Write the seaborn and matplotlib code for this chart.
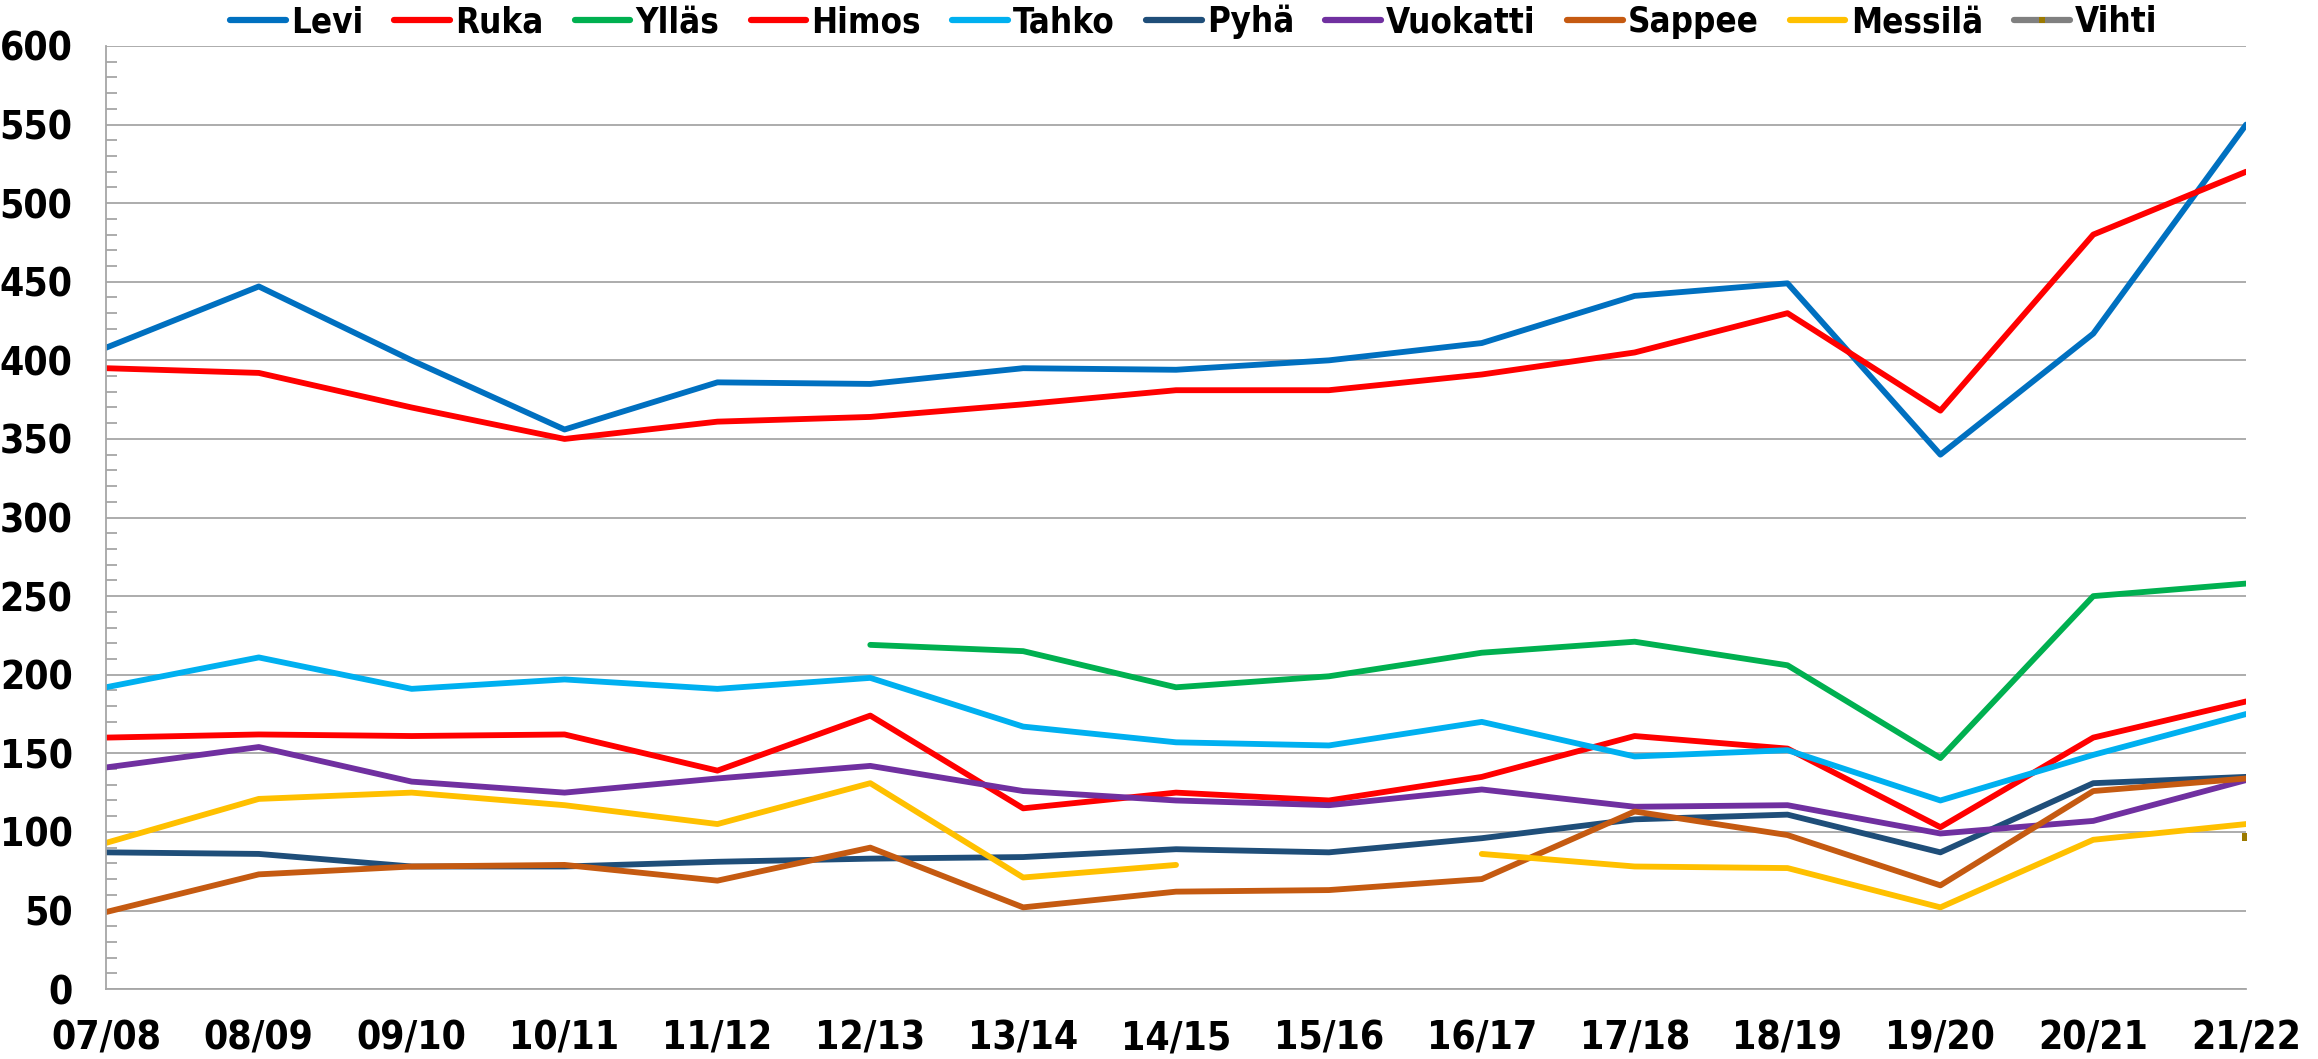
import numpy as np
import pandas as pd
import matplotlib
matplotlib.use('Agg')
import matplotlib.pyplot as plt
from matplotlib.lines import Line2D
from matplotlib.ticker import MultipleLocator
import seaborn as sb

seasons = ['07/08', '08/09', '09/10', '10/11', '11/12', '12/13', '13/14', '14/15',
           '15/16', '16/17', '17/18', '18/19', '19/20', '20/21', '21/22']
nan = np.nan

levi = [408, 447, 400, 356, 386, 385, 395, 394, 400, 411, 441, 449, 340, 417, 550]
ruka = [395, 392, 370, 350, 361, 364, 372, 381, 381, 391, 405, 430, 368, 480, 520]
yllas = [nan, nan, nan, nan, nan, 219, 215, 192, 199, 214, 221, 206, 147, 250, 258]
himos = [160, 162, 161, 162, 139, 174, 115, 125, 120, 135, 161, 153, 103, 160, 183]
tahko = [192, 211, 191, 197, 191, 198, 167, 157, 155, 170, 148, 152, 120, 149, 175]
pyha = [87, 86, 78, 78, 81, 83, 84, 89, 87, 96, 108, 111, 87, 131, 135]
vuokatti = [141, 154, 132, 125, 134, 142, 126, 120, 117, 127, 116, 117, 99, 107, 133]
sappee = [49, 73, 78, 79, 69, 90, 52, 62, 63, 70, 113, 98, 66, 126, 134]
messila = [93, 121, 125, 117, 105, 131, 71, 79, nan, 86, 78, 77, 52, 95, 105]
vihti = [nan] * 14 + [97]

resorts = ['Levi', 'Ruka', 'Ylläs', 'Himos', 'Tahko', 'Pyhä', 'Vuokatti', 'Sappee', 'Messilä', 'Vihti']
values = [levi, ruka, yllas, himos, tahko, pyha, vuokatti, sappee, messila, vihti]
colors = ['#0070C0', '#FF0000', '#00B050', '#FF0000', '#00B0F0', '#1F4E79',
          '#7030A0', '#C55A11', '#FFC000', '#808080']
palette = dict(zip(resorts, colors))

rows = []
for name, vals in zip(resorts, values):
    seg = 0
    for i, v in enumerate(vals):
        if np.isnan(v):
            seg += 1
            continue
        rows.append({'resort': name, 'pos': i, 'value': v, 'seg': seg})
df = pd.DataFrame(rows)

sb.set_style('white')
plt.rcParams['font.family'] = ['DejaVu Sans']
plt.rcParams['font.stretch'] = 'condensed'
plt.rcParams['text.color'] = 'black'
plt.rcParams['xtick.color'] = 'black'
plt.rcParams['ytick.color'] = 'black'

fig, ax = plt.subplots(figsize=(23.18, 10.59), dpi=100)
fig.subplots_adjust(left=0.0457, right=0.969, top=0.9566, bottom=0.066)

lines = df[df['resort'] != 'Vihti']
sb.lineplot(data=lines, x='pos', y='value', hue='resort', units='seg', estimator=None,
            palette=palette, linewidth=4.2, legend=False, ax=ax, sort=False)
for ln in ax.lines:
    ln.set_linewidth(4.2)
    ln.set_solid_joinstyle('round')
vihti_df = df[df['resort'] == 'Vihti']
sb.scatterplot(data=vihti_df, x='pos', y='value', color='#9C7A00', marker='s',
               s=40, linewidth=0, legend=False, ax=ax)

ax.set_xlim(0, len(seasons) - 1)
ax.set_ylim(0, 600)
ax.set_xticks(range(len(seasons)))
ax.set_xticklabels(seasons)
ax.yaxis.set_major_locator(MultipleLocator(50))
ax.yaxis.set_minor_locator(MultipleLocator(10))
ax.grid(axis='y', which='major', color='#a6a6a6', linewidth=1.3)
ax.set_axisbelow(True)
ax.set_xlabel('')
ax.set_ylabel('')

for s in ['top', 'right']:
    ax.spines[s].set_visible(False)
for s in ['left', 'bottom']:
    ax.spines[s].set_color('#a6a6a6')
    ax.spines[s].set_linewidth(1.3)

ax.tick_params(axis='x', which='major', direction='out', length=12, width=1.3,
               color='#a6a6a6', labelcolor='black', labelsize=28, pad=10)
ax.tick_params(axis='y', which='major', direction='out', length=12, width=1.3,
               color='#a6a6a6', labelcolor='black', labelsize=28, pad=12)
ax.tick_params(axis='y', which='minor', direction='in', length=8, width=1.3,
               color='#a6a6a6', left=True)
for lbl in ax.get_xticklabels() + ax.get_yticklabels():
    lbl.set_fontweight('bold')
    lbl.set_fontstretch('condensed')

handles = []
for name, c in zip(resorts, colors):
    if name == 'Vihti':
        h = Line2D([], [], color=c, linewidth=4.5, marker='s', markersize=5,
                   markerfacecolor='#9C7A00', markeredgewidth=0)
    else:
        h = Line2D([], [], color=c, linewidth=4.5)
    handles.append(h)
leg = fig.legend(handles, resorts, loc='center', bbox_to_anchor=(0.515, 0.979),
                 ncol=10, frameon=False, handlelength=1.6, handletextpad=0.15,
                 columnspacing=0.9,
                 prop={'size': 25, 'weight': 'bold', 'stretch': 'condensed'})

plt.savefig('out.png')
